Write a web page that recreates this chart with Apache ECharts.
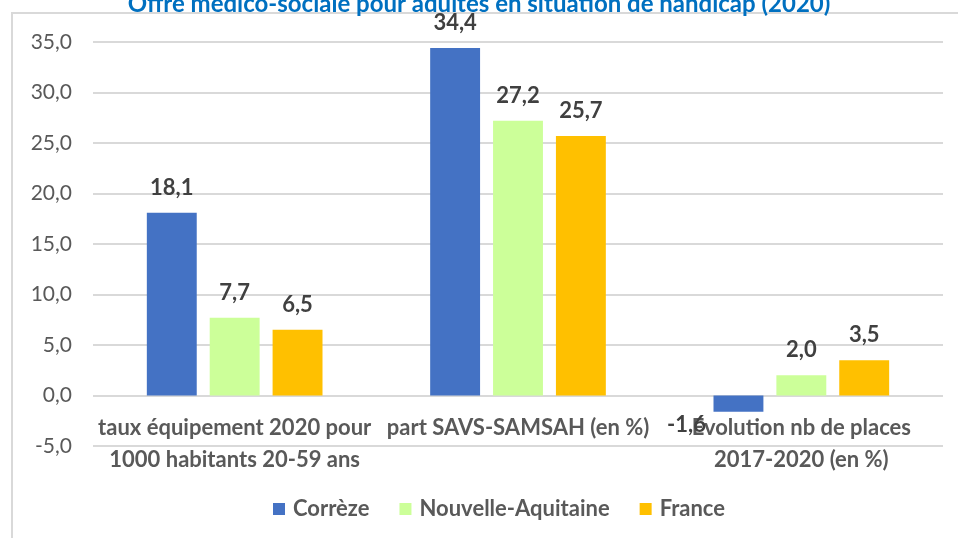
<!DOCTYPE html>
<html>
<head>
<meta charset="utf-8">
<script src="https://cdn.jsdelivr.net/npm/echarts@6/dist/echarts.min.js"></script>
<style>
  html, body { margin: 0; padding: 0; background: #fff; }
  #chart { width: 958px; height: 538px; }
</style>
</head>
<body>
<div id="chart"></div>
<script>
const categories = [
  'taux équipement 2020 pour\n1000 habitants 20-59 ans',
  'part SAVS-SAMSAH (en %)',
  'Evolution nb de places\n2017-2020 (en %)'
];
const correze = [18.1, 34.4, -1.6];
const nouvelleAquitaine = [7.7, 27.2, 2.0];
const france = [6.5, 25.7, 3.5];
const seriesNames = ['Corrèze', 'Nouvelle-Aquitaine', 'France'];
const colors = ['#4472C4', '#CCFF99', '#FFC000'];
const titleText = 'Offre médico-sociale pour adultes en situation de handicap (2020)';

const font = 'Lato, "Open Sans", sans-serif';
const fmt = v => v.toFixed(1).replace('.', ',');

const chart = echarts.init(document.getElementById('chart'));

function barSeries(name, data, color) {
  return {
    name: name,
    type: 'bar',
    barGap: '26%',
    barCategoryGap: '38%',
    itemStyle: { color: color },
    data: data.map(function (v) {
      const item = { value: v };
      if (v < 0) {
        item.label = { position: 'bottom', offset: [-52, -12] };
      }
      return item;
    }),
    label: {
      show: true,
      position: 'top',
      distance: 14,
      formatter: p => fmt(p.value),
      fontFamily: font,
      fontWeight: 'bold',
      fontSize: 22,
      color: '#404040'
    }
  };
}

chart.setOption({
  animation: false,
  color: colors,
  title: {
    text: titleText,
    left: 'center',
    top: -13,
    textStyle: { color: '#0070C0', fontFamily: font, fontWeight: 'bold', fontSize: 24 }
  },
  graphic: [{
    type: 'rect',
    shape: { x: 12, y: 13, width: 960, height: 540 },
    style: { fill: 'none', stroke: '#D9D9D9', lineWidth: 2 },
    z: -1
  }],
  legend: {
    bottom: 13,
    left: 268,
    itemWidth: 12,
    itemHeight: 12,
    itemGap: 30,
    icon: 'rect',
    textStyle: { fontFamily: font, fontSize: 22, fontWeight: 'bold', color: '#595959', padding: [0, 0, 0, 3] },
    data: seriesNames
  },
  grid: { left: 93, right: 15, top: 42, bottom: 92 },
  xAxis: {
    type: 'category',
    data: categories,
    axisTick: { show: false },
    axisLine: { show: false },
    axisLabel: {
      margin: -34,
      interval: 0,
      fontFamily: font,
      fontSize: 22,
      fontWeight: 'bold',
      color: '#595959',
      lineHeight: 32
    }
  },
  yAxis: {
    type: 'value',
    min: -5,
    max: 35,
    interval: 5,
    axisLine: { show: false },
    axisTick: { show: false },
    splitLine: { lineStyle: { color: '#D9D9D9', width: 2 } },
    axisLabel: {
      margin: 21,
      formatter: v => fmt(v),
      fontFamily: font,
      fontSize: 21,
      color: '#595959'
    }
  },
  series: [
    barSeries(seriesNames[0], correze, colors[0]),
    barSeries(seriesNames[1], nouvelleAquitaine, colors[1]),
    barSeries(seriesNames[2], france, colors[2])
  ]
});
</script>
</body>
</html>
